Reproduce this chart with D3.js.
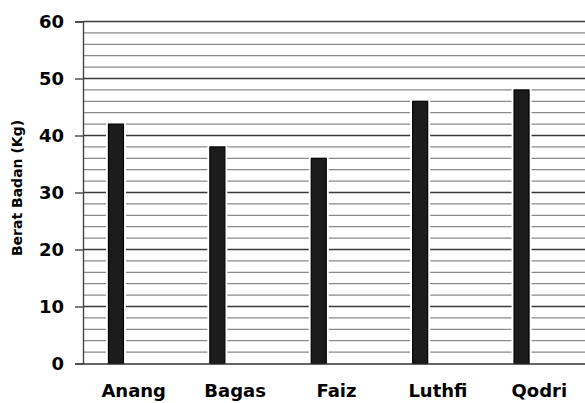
<!DOCTYPE html>
<html>
<head>
<meta charset="utf-8">
<script src="https://cdn.jsdelivr.net/npm/d3@7"></script>
<style>
	body { margin: 0; background: #fff; }
	text { font-family: "DejaVu Sans", Verdana, sans-serif; font-weight: bold; fill: #000; }
</style>
</head>
<body>
<svg id="chart" width="585" height="403"></svg>
<script>
// data
const names = ["Anang", "Bagas", "Faiz", "Luthfi", "Qodri"];
const weights = [42, 38, 36, 46, 48];
const yTicks = [0, 10, 20, 30, 40, 50, 60];
const yTitle = "Berat Badan (Kg)";

const svg = d3.select("#chart");
const plotLeft = 83, plotRight = 590, plotTop = 21.5, plotBottom = 363.5;

const x = d3.scaleBand()
	.domain(names)
	.range([plotLeft, plotRight])
	.padding(0);

const y = d3.scaleLinear()
	.domain([0, 60])
	.range([plotBottom, plotTop]);

// gridlines, minor every 2 and major every 10
const minor = d3.range(2, 60, 2).filter(v => v % 10 !== 0);
svg.append("g")
	.selectAll("line")
	.data(minor)
	.enter().append("line")
	.attr("x1", plotLeft).attr("x2", 585)
	.attr("y1", d => y(d)).attr("y2", d => y(d))
	.attr("stroke", "#8a8a8a")
	.attr("stroke-width", 1.3);

svg.append("g")
	.selectAll("line")
	.data(yTicks.filter(v => v > 0))
	.enter().append("line")
	.attr("x1", plotLeft).attr("x2", 585)
	.attr("y1", d => y(d)).attr("y2", d => y(d))
	.attr("stroke", "#3a3a3a")
	.attr("stroke-width", 1.4);

// bars sit left of the category centre (second series is empty)
const barW = 15;
const barX = (d) => x(d) + x.bandwidth() * 0.325 - barW / 2;
const bars = svg.append("g");

// thin white halo, the gridlines stop just short of each bar
bars.selectAll(".halo")
	.data(names)
	.enter().append("rect")
	.classed("halo", true)
	.attr("x", (d) => barX(d) - 2.5)
	.attr("y", (d, i) => y(weights[i]) - 1)
	.attr("width", barW + 5)
	.attr("height", (d, i) => y(0) - y(weights[i]) + 1)
	.attr("fill", "#fff");

bars.selectAll(".bar")
	.data(names)
	.enter().append("rect")
	.classed("bar", true)
	.attr("x", barX)
	.attr("y", (d, i) => y(weights[i]))
	.attr("width", barW)
	.attr("height", (d, i) => y(0) - y(weights[i]))
	.attr("fill", "#1c1c1c")
	.attr("stroke", "#000")
	.attr("stroke-width", 1.2);

// y axis
const yAxis = d3.axisLeft(y)
	.tickValues(yTicks)
	.tickSize(8)
	.tickPadding(11)
	.tickFormat(d3.format("d"));

const yg = svg.append("g")
	.attr("transform", "translate(" + plotLeft + ",0)")
	.call(yAxis);
yg.select(".domain").attr("stroke", "#444").attr("stroke-width", 1.4);
yg.selectAll(".tick line").attr("stroke", "#444").attr("stroke-width", 1.4);
yg.selectAll(".tick text")
	.style("font-size", "18px")
	.attr("fill", "#000");

// x axis
const xAxis = d3.axisBottom(x).tickSize(0).tickPadding(21);
const xg = svg.append("g")
	.attr("transform", "translate(0," + plotBottom + ")")
	.call(xAxis);
xg.select(".domain").attr("stroke", "#333").attr("stroke-width", 1.4);
xg.selectAll(".tick text")
	.style("font-size", "18px")
	.attr("fill", "#000");

svg.append("text")
	.attr("transform", "translate(22,188) rotate(-90)")
	.attr("text-anchor", "middle")
	.style("font-size", "14px")
	.text(yTitle);
</script>
</body>
</html>
